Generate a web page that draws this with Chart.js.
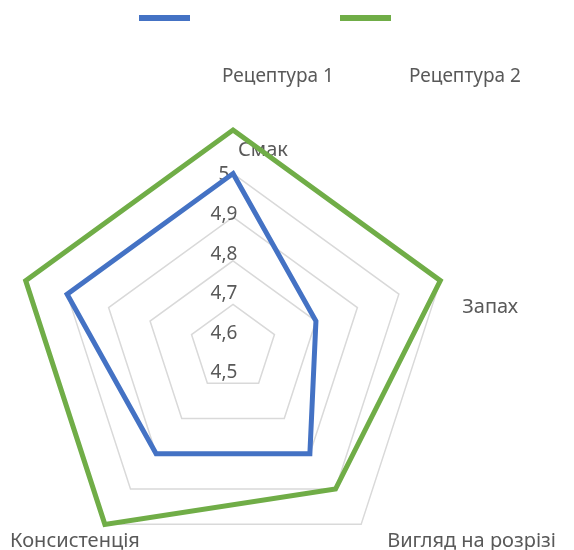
<!DOCTYPE html>
<html>
<head>
<meta charset="utf-8">
<script src="https://cdn.jsdelivr.net/npm/chart.js@4"></script>
<style>
    body { margin: 0; overflow: hidden; background: #fff; }
    #wrap { width: 574px; height: 550px; overflow: hidden; }
</style>
</head>
<body>
<div id="wrap"><canvas id="radarChart" width="574" height="600"></canvas></div>
<script>
const categories = ["Смак", "Запах", "Вигляд на розрізі", "Консистенція", ""];
const seriesNames = ["Рецептура 1", "Рецептура 2"];
const recipe1 = [4.9, 4.7, 4.8, 4.8, 4.9];
const recipe2 = [5, 5, 4.9, 5, 5];
const tickLabels = ["4,5", "4,6", "4,7", "4,8", "4,9", "5"];

const seriesColors = ["#4472C4", "#70AD47"];
const textColor = "#595959";
const legendFont = '19px "Noto Sans", sans-serif';
const categoryFont = '20px "Noto Sans", sans-serif';
const tickFont = '19px "Noto Sans", sans-serif';

// Excel-style legend: line samples on top, names underneath and to the right
const excelLegend = {
    id: 'excelLegend',
    afterDraw(chart) {
        const ctx = chart.ctx;
        const lineX = [139, 340];
        const textX = [222, 409];
        ctx.save();
        seriesNames.forEach((name, i) => {
            ctx.strokeStyle = seriesColors[i];
            ctx.lineWidth = 6;
            ctx.beginPath();
            ctx.moveTo(lineX[i], 18);
            ctx.lineTo(lineX[i] + 51, 18);
            ctx.stroke();

            ctx.fillStyle = textColor;
            ctx.font = legendFont;
            ctx.textAlign = 'left';
            ctx.textBaseline = 'middle';
            ctx.fillText(name, textX[i], 77);
        });
        ctx.restore();
    }
};

// category names and value labels placed like Excel does it
const excelLabels = {
    id: 'excelLabels',
    beforeDatasetsDraw(chart) {
        const ctx = chart.ctx;
        const scale = chart.scales.r;
        ctx.save();
        ctx.fillStyle = textColor;
        ctx.textBaseline = 'middle';

        ctx.font = categoryFont;
        const shifts = [[5, 20, 'left'], [22, 27, 'left'], [26, 17, 'left'], [35, 17, 'right'], [-12, 0, 'right']];
        categories.forEach((name, i) => {
            const p = scale.getPointPosition(i, scale.drawingArea);
            ctx.textAlign = shifts[i][2];
            ctx.fillText(name, p.x + shifts[i][0], p.y + shifts[i][1]);
        });

        ctx.font = tickFont;
        ctx.textAlign = 'center';
        scale.ticks.forEach((tick, i) => {
            const d = scale.getDistanceFromCenterForValue(tick.value);
            ctx.fillText(tickLabels[i], scale.xCenter - 9, scale.yCenter + 25 - d * 0.908);
        });
        ctx.restore();
    }
};

const ctx = document.getElementById('radarChart').getContext('2d');

new Chart(ctx, {
    type: 'radar',
    data: {
        labels: categories,
        datasets: [
            {
                label: seriesNames[0],
                data: recipe1,
                borderColor: seriesColors[0],
                borderWidth: 5,
                borderJoinStyle: 'miter',
                pointRadius: 0,
                fill: false,
                tension: 0
            },
            {
                label: seriesNames[1],
                data: recipe2,
                borderColor: seriesColors[1],
                borderWidth: 5,
                borderJoinStyle: 'miter',
                pointRadius: 0,
                fill: false,
                tension: 0
            }
        ]
    },
    options: {
        responsive: false,
        animation: false,
        layout: {
            padding: { left: 15, top: 130, right: 123, bottom: 34 }
        },
        plugins: {
            legend: { display: false },
            tooltip: { enabled: false }
        },
        scales: {
            r: {
                min: 4.5,
                max: 5,
                ticks: { stepSize: 0.1, display: false },
                grid: { color: '#d9d9d9', lineWidth: 1.5 },
                angleLines: { display: false },
                pointLabels: { display: false }
            }
        }
    },
    plugins: [excelLegend, excelLabels]
});
</script>
</body>
</html>
